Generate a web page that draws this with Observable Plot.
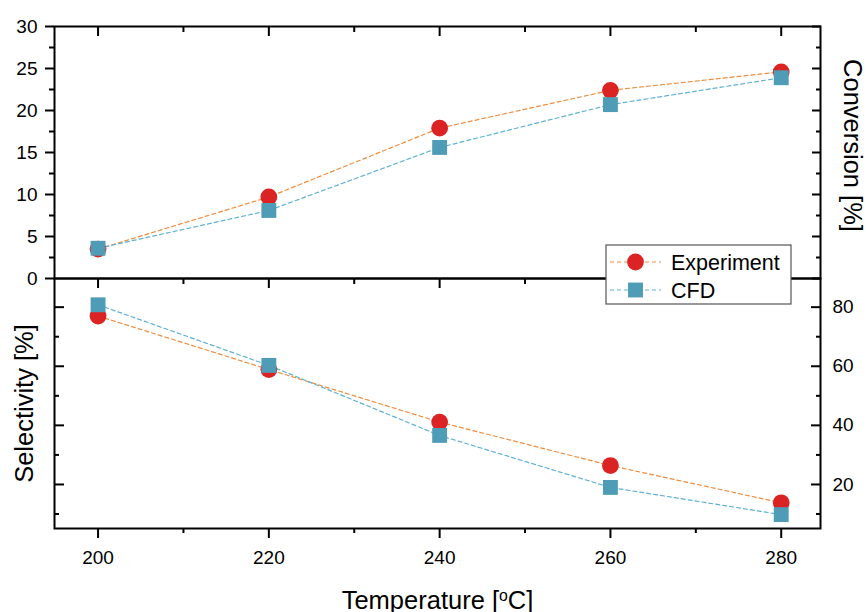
<!DOCTYPE html>
<html><head><meta charset="utf-8">
<script src="https://cdn.jsdelivr.net/npm/d3@7"></script>
<script src="https://cdn.jsdelivr.net/npm/@observablehq/plot@0.6"></script>
<style>
body{margin:0;background:#fff;}
#chart{position:relative;width:866px;height:612px;font-family:'Liberation Sans',Arial,sans-serif;}
#chart svg.layer{position:absolute;left:0;top:0;}
</style></head><body><div id="chart"></div>
<script>
// ---- data ----
const temperatures = [200, 220, 240, 260, 280];
const conversionExperiment = [3.5, 9.7, 17.9, 22.4, 24.6];
const conversionCfd = [3.6, 8.1, 15.6, 20.7, 23.9];
const selectivityExperiment = [77.0, 58.9, 41.1, 26.4, 13.8];
const selectivityCfd = [80.8, 60.3, 36.6, 19.0, 9.8];
const seriesNames = ["Experiment", "CFD"];
const xMajorTicks = [200, 220, 240, 260, 280];
const xMinorTicks = [210, 230, 250, 270];
const conversionMajorTicks = [0, 5, 10, 15, 20, 25, 30];
const conversionMinorTicks = [2.5, 7.5, 12.5, 17.5, 22.5, 27.5];
const selectivityMajorTicks = [20, 40, 60, 80];
const selectivityMinorTicks = [10, 30, 50, 70];
const xTitle = "Temperature [oC]";
const conversionTitle = "Conversion [%]";
const selectivityTitle = "Selectivity [%]";

// ---- styles ----
const FONT = "'Liberation Sans', Arial, sans-serif";
const RED = "#dc2324", BLUE = "#4f9cb7", ORANGE = "#ef8d3e", LIGHTBLUE = "#5eb1d2";
const W = 866, H = 612;
const X_DOMAIN = [194.9, 284.6];

const rows = (ys) => temperatures.map((t, i) => ({t, v: ys[i]}));
const lineOpts = (c) => ({x: "t", y: "v", stroke: c, strokeWidth: 1.2, strokeDasharray: "4,3"});
const dotOpts = (sym, c) => ({x: "t", y: "v", symbol: sym, r: 8.4, fill: c, stroke: "none"});

function seriesMarks(exp, cfd) {
  return [
    Plot.line(rows(exp), lineOpts(ORANGE)),
    Plot.line(rows(cfd), lineOpts(LIGHTBLUE)),
    Plot.dot(rows(exp), dotOpts("circle", RED)),
    Plot.dot(rows(cfd), dotOpts("square", BLUE))
  ];
}
const tk = {fill: "none", strokeWidth: 2, label: null};

const topPlot = Plot.plot({
  width: W, height: H,
  marginLeft: 54, marginRight: 46, marginTop: 26, marginBottom: H - 278,
  style: {background: "transparent", fontFamily: FONT, color: "black", overflow: "visible"},
  x: {domain: X_DOMAIN},
  y: {domain: [0, 30]},
  marks: [
    ...seriesMarks(conversionExperiment, conversionCfd),
    Plot.frame({stroke: "black", strokeWidth: 2}),
    Plot.axisY(conversionMajorTicks, {...tk, anchor: "left", tickSize: 9}),
    Plot.axisY(conversionMinorTicks, {...tk, anchor: "left", tickSize: 5}),
    Plot.axisY(conversionMajorTicks, {anchor: "left", tickSize: 0, tickPadding: 17, fontSize: 19, label: null}),
    Plot.axisY(conversionMajorTicks, {...tk, anchor: "right", tickSize: 9, dx: -9}),
    Plot.axisY(conversionMinorTicks, {...tk, anchor: "right", tickSize: 5, dx: -5}),
    Plot.axisX(xMajorTicks, {...tk, anchor: "top", tickSize: 9, dy: 9}),
    Plot.axisX(xMinorTicks, {...tk, anchor: "top", tickSize: 5, dy: 5}),
    Plot.text([conversionTitle], {frameAnchor: "right", rotate: 90, dx: 32, dy: -7, fontSize: 25.5, lineAnchor: "middle", textAnchor: "middle", fill: "black"})
  ]
});

const bottomPlot = Plot.plot({
  width: W, height: H,
  marginLeft: 54, marginRight: 46, marginTop: 278, marginBottom: H - 528,
  style: {background: "transparent", fontFamily: FONT, color: "black", overflow: "visible"},
  x: {domain: X_DOMAIN},
  y: {domain: [5.1, 89.7]},
  marks: [
    ...seriesMarks(selectivityExperiment, selectivityCfd),
    Plot.frame({stroke: "black", strokeWidth: 2}),
    Plot.axisY(selectivityMajorTicks, {...tk, anchor: "left", tickSize: 10, dx: 10}),
    Plot.axisY(selectivityMinorTicks, {...tk, anchor: "left", tickSize: 5, dx: 5}),
    Plot.axisY(selectivityMajorTicks, {...tk, anchor: "right", tickSize: 10, dx: -10}),
    Plot.axisY(selectivityMinorTicks, {...tk, anchor: "right", tickSize: 5, dx: -5}),
    Plot.axisY(selectivityMajorTicks, {anchor: "right", tickSize: 0, tickPadding: 12, fontSize: 19, label: null}),
    Plot.axisX(xMajorTicks, {...tk, anchor: "top", tickSize: 9, dy: 9}),
    Plot.axisX(xMinorTicks, {...tk, anchor: "top", tickSize: 5, dy: 5}),
    Plot.axisX(xMajorTicks, {...tk, anchor: "bottom", tickSize: 10}),
    Plot.axisX(xMinorTicks, {...tk, anchor: "bottom", tickSize: 5}),
    Plot.axisX(xMajorTicks, {anchor: "bottom", tickSize: 0, tickPadding: 22, fontSize: 19, label: null}),
    Plot.text([selectivityTitle], {frameAnchor: "left", rotate: -90, dx: -30, fontSize: 25.5, lineAnchor: "middle", textAnchor: "middle", fill: "black"}),
    Plot.text([xTitle], {frameAnchor: "bottom", dy: 80, fontSize: 25.5, lineAnchor: "bottom", textAnchor: "middle", fill: "black"})
  ]
});

const chart = document.getElementById("chart");
for (const p of [topPlot, bottomPlot]) { p.classList.add("layer"); chart.appendChild(p); }

// superscript "o" in the x title
bottomPlot.querySelectorAll("text").forEach(el => {
  if (el.textContent === xTitle) {
    el.textContent = "";
    const parts = xTitle.split("[o");
    el.appendChild(document.createTextNode(parts[0] + "["));
    const sup = document.createElementNS("http://www.w3.org/2000/svg", "tspan");
    sup.setAttribute("baseline-shift", "super");
    sup.setAttribute("font-size", "62%");
    sup.textContent = "o";
    el.appendChild(sup);
    el.appendChild(document.createTextNode(parts[1]));
  }
});

// legend
const NS = "http://www.w3.org/2000/svg";
const lg = d3.create("svg").attr("width", 187).attr("height", 61)
  .attr("xmlns", NS).style("position", "absolute").style("left", "605px").style("top", "244px")
  .style("font-family", FONT);
lg.append("rect").attr("x", 1).attr("y", 1).attr("width", 185).attr("height", 59)
  .attr("fill", "white").attr("stroke", "#555").attr("stroke-width", 1.2);
const items = [
  {name: seriesNames[0], line: ORANGE, fill: RED, sym: "circle"},
  {name: seriesNames[1], line: LIGHTBLUE, fill: BLUE, sym: "square"}
];
items.forEach((it, i) => {
  const cy = 18 + i * 28;
  lg.append("line").attr("x1", 5).attr("x2", 56).attr("y1", cy).attr("y2", cy)
    .attr("stroke", it.line).attr("stroke-width", 1.2).attr("stroke-dasharray", "4,3");
  if (it.sym === "circle") lg.append("circle").attr("cx", 30.5).attr("cy", cy).attr("r", 8.4).attr("fill", it.fill);
  else lg.append("rect").attr("x", 30.5 - 7.45).attr("y", cy - 7.45).attr("width", 14.9).attr("height", 14.9).attr("fill", it.fill);
  lg.append("text").attr("x", 66).attr("y", cy).attr("dy", "0.35em").attr("font-size", 21.5).attr("fill", "black").text(it.name);
});
chart.appendChild(lg.node());
</script></body></html>
